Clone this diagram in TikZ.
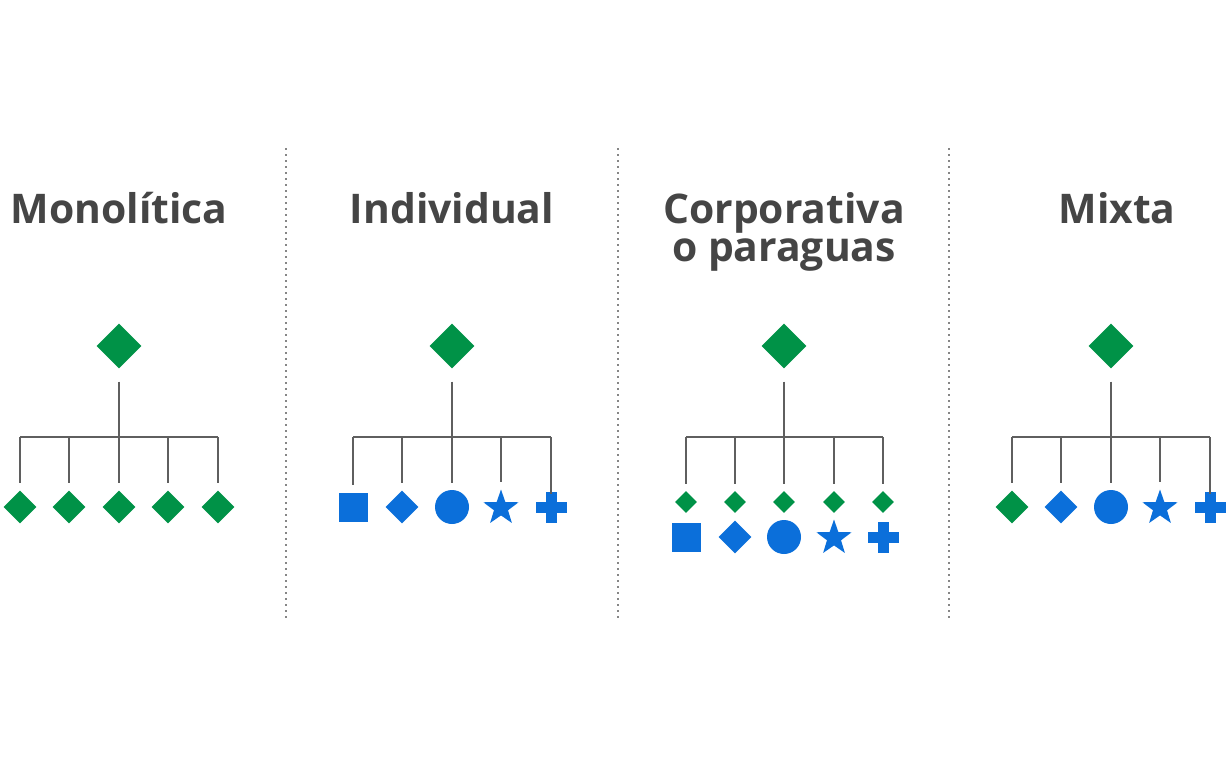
\documentclass[tikz,border=0pt]{standalone}
\usepackage{fontspec}
\setmainfont{Open Sans}
\usetikzlibrary{shapes.geometric,positioning}
\definecolor{brandgreen}{HTML}{009247}
\definecolor{brandblue}{HTML}{0B6FDA}
\definecolor{linegray}{HTML}{5F5F5F}
\definecolor{textgray}{HTML}{454545}
\tikzset{
  title/.style={font=\fontsize{41}{38}\selectfont\bfseries, text=textgray,
                align=center, anchor=base, inner sep=0pt},
  mark0/.style={inner sep=0pt, draw=none},
  topdia/.style={mark0, diamond, fill=brandgreen, minimum width=45bp, minimum height=45bp},
  gdia/.style={mark0, diamond, fill=brandgreen, minimum width=33bp, minimum height=33bp},
  smalldia/.style={mark0, diamond, fill=brandgreen, minimum width=22bp, minimum height=22bp},
  bdia/.style={mark0, diamond, fill=brandblue, minimum width=33bp, minimum height=33bp},
  bsq/.style={mark0, rectangle, fill=brandblue, minimum width=29bp, minimum height=29bp},
  bcirc/.style={mark0, circle, fill=brandblue, minimum size=34bp},
  bstar/.style={mark0, star, star points=5, star point ratio=2.5, fill=brandblue, minimum size=37bp},
  plush/.style={mark0, rectangle, fill=brandblue, minimum width=31bp, minimum height=11bp},
  plusv/.style={mark0, rectangle, fill=brandblue, minimum width=11bp, minimum height=31bp},
  conn/.style={draw=linegray, line width=1.3bp},
  divider/.style={draw=gray!95, line width=1.8bp, dash pattern=on 1.8bp off 4.2bp}
}
\begin{document}
\begin{tikzpicture}[x=1bp, y=-1bp]
  \useasboundingbox (0,0) rectangle (1226,768);

  % dividers
  \coordinate (v1t) at (286,148); \coordinate (v1b) at (286,618);
  \coordinate (v2t) at (618,148); \coordinate (v2b) at (618,618);
  \coordinate (v3t) at (949,148); \coordinate (v3b) at (949,618);
  \foreach \v in {v1, v2, v3}{
    \draw[divider] (\v t) -- (\v b);
  }

  % Monolitica
  \node[title] (tm) at (119,223) {Monolítica};
  \node[topdia] (m0) at (119,346) {};
  \coordinate (mbar) at (119,437);
  \foreach \i/\x in {1/20, 2/69, 3/119, 4/168, 5/218}{
    \node[gdia] (m\i) at (\x,507) {};
  }

  % Individual
  \node[title] (ti) at (452,223) {Individual};
  \node[topdia] (i0) at (452,346) {};
  \coordinate (ibar) at (452,437);
  \node[bsq]   (i1) at (353,507) {};
  \node[bdia]  (i2) at (402,507) {};
  \node[bcirc] (i3) at (452,507) {};
  \node[bstar] (i4) at (501,508) {};
  \node[plush] (i5) at (551,507) {};
  \node[plusv] (i5v) at (i5) {};

  % Corporativa o paraguas
  \node[title] (tc) at (784,261) {Corporativa\\o paraguas};
  \node[topdia] (c0) at (784,346) {};
  \coordinate (cbar) at (784,437);
  \foreach \i/\x in {1/686, 2/735, 3/784, 4/834, 5/883}{
    \node[smalldia] (c\i) at (\x,502) {};
  }
  \node[bsq]   (d1) at (686,537) {};
  \node[bdia]  (d2) at (735,537) {};
  \node[bcirc] (d3) at (784,537) {};
  \node[bstar] (d4) at (834,538) {};
  \node[plush] (d5) at (883,537) {};
  \node[plusv] (d5v) at (d5) {};

  % Mixta
  \node[title] (tx) at (1117,223) {Mixta};
  \node[topdia] (x0) at (1111,346) {};
  \coordinate (xbar) at (1111,437);
  \node[gdia]  (x1) at (1012,507) {};
  \node[bdia]  (x2) at (1061,507) {};
  \node[bcirc] (x3) at (1111,507) {};
  \node[bstar] (x4) at (1160,508) {};
  \node[plush] (x5) at (1210,507) {};
  \node[plusv] (x5v) at (x5) {};

  % connectors
  \foreach \t in {m, i, c, x}{
    \draw[conn, shorten <=13bp] (\t0.south) -- (\t bar);
    \draw[conn] (\t1 |- \t bar) -- (\t5 |- \t bar);
    \foreach \i in {1,...,5}{
      \draw[conn] (\t\i |- \t bar) -- ([yshift=7bp]\t\i |- \t\i.north);
    }
  }
\end{tikzpicture}
\end{document}
